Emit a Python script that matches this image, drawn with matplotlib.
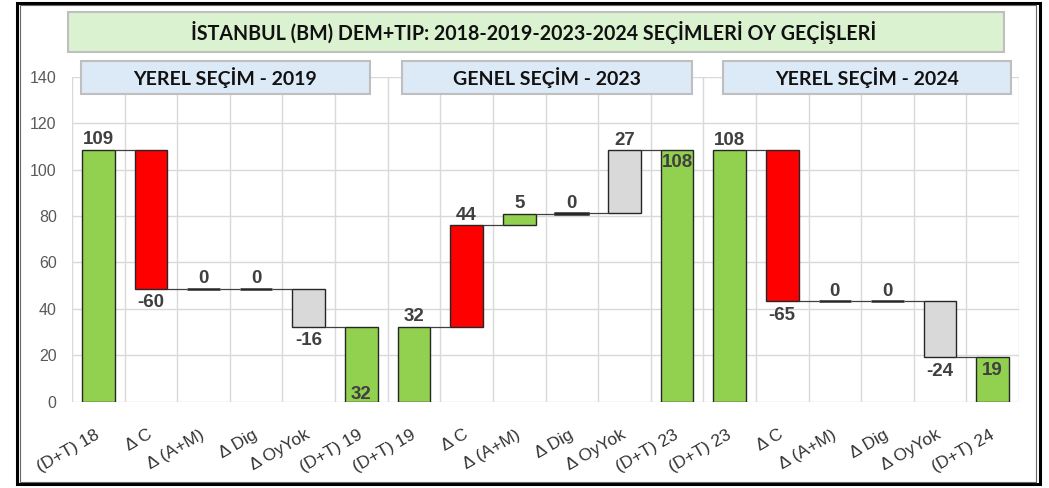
import matplotlib
matplotlib.use("Agg")
import matplotlib.pyplot as plt
from matplotlib.patches import Rectangle
from matplotlib.transforms import offset_copy
import numpy as np

# ---------------- data ----------------
title = "İSTANBUL (BM) DEM+TIP: 2018-2019-2023-2024 SEÇİMLERİ OY GEÇİŞLERİ"
panel_titles = ["YEREL SEÇİM - 2019", "GENEL SEÇİM - 2023", "YEREL SEÇİM - 2024"]

cats_p1 = ["(D+T) 18", "Δ C", "Δ (A+M)", "Δ Dig", "Δ OyYok", "(D+T) 19"]
cats_p2 = ["(D+T) 19", "Δ C", "Δ (A+M)", "Δ Dig", "Δ OyYok", "(D+T) 23"]
cats_p3 = ["(D+T) 23", "Δ C", "Δ (A+M)", "Δ Dig", "Δ OyYok", "(D+T) 24"]

start_totals = [108.6, 32.3, 108.3]
deltas_p1 = [-59.9, 0.0, 0.0, -16.4]
deltas_p2 = [43.7, 5.0, 0.1, 27.2]
deltas_p3 = [-65.0, 0.0, 0.0, -24.3]

yticks = [0, 20, 40, 60, 80, 100, 120, 140]

# ---------------- style ----------------
GREEN = "#92d050"
RED = "#ff0000"
GRAY = "#d9d9d9"
delta_colors = [RED, GREEN, GREEN, GRAY]
end_label_mode = ["base", "end", "end"]
BAR_W = 0.62
LABEL_COLOR = "#404040"

W, H = 1049, 488
fig = plt.figure(figsize=(W / 100, H / 100), dpi=100)
fig.patch.set_facecolor("white")


def fx(x):
    return x / W


def fy(y):
    return 1 - y / H


ax_left, ax_right, ax_top, ax_bottom = 72, 1019, 76.7, 401.5
ax = fig.add_axes([fx(ax_left), fy(ax_bottom), fx(ax_right) - fx(ax_left),
                   fy(ax_top) - fy(ax_bottom)])

panels = [(cats_p1, deltas_p1), (cats_p2, deltas_p2), (cats_p3, deltas_p3)]
all_cats = []
n_per = 6

for p, (cats, deltas) in enumerate(panels):
    all_cats += cats
    x0 = p * n_per
    xs = np.arange(x0, x0 + n_per)
    start = start_totals[p]
    levels = start + np.cumsum(deltas)
    prev = np.concatenate([[start], levels[:-1]])
    end = levels[-1]

    bottoms = [0] + list(np.minimum(prev, levels)) + [0]
    heights = [start] + list(np.abs(deltas)) + [end]
    colors = [GREEN] + delta_colors + [GREEN]
    lws = [1.0] + [1.8 if abs(d) < 0.5 else 1.0 for d in deltas] + [1.0]
    ax.bar(xs, heights, bottom=bottoms, width=BAR_W, color=colors,
           edgecolor="#262626", linewidth=lws, zorder=3)

    # connectors
    run_levels = [start] + list(levels)
    for i in range(n_per - 1):
        ax.hlines(run_levels[i], xs[i] + BAR_W / 2, xs[i + 1] - BAR_W / 2,
                  color="#404040", linewidth=0.9, zorder=3)

    lab_kw = dict(ha="center", fontsize=13.5, fontweight="bold",
                  color=LABEL_COLOR, family="Liberation Sans", zorder=5)
    up = offset_copy(ax.transData, fig=fig, x=0, y=1, units="points")
    down = offset_copy(ax.transData, fig=fig, x=0, y=-4, units="points")
    # start total label
    ax.text(xs[0], start, f"{round(start):.0f}", va="bottom", transform=up, **lab_kw)
    # deltas
    for i, d in enumerate(deltas):
        xi = xs[i + 1]
        top = max(prev[i], levels[i])
        bot = min(prev[i], levels[i])
        if d >= 0:
            ax.text(xi, top, f"{round(d):.0f}", va="bottom", transform=up, **lab_kw)
        else:
            ax.text(xi, bot, f"{round(d):.0f}", va="top", transform=down, **lab_kw)
    # end total label (inside)
    if end_label_mode[p] == "base":
        tr = offset_copy(ax.transData, fig=fig, x=0, y=2, units="points")
        ax.text(xs[-1], 0, f"{round(end):.0f}", va="baseline", transform=tr, **lab_kw)
    else:
        tr = offset_copy(ax.transData, fig=fig, x=0, y=-3, units="points")
        ax.text(xs[-1], end, f"{round(end):.0f}", va="top", transform=tr, **lab_kw)

n = len(all_cats)
ax.set_xlim(-0.5, n - 0.5)
ax.set_ylim(0, 140)
ax.set_yticks(yticks)
ax.set_xticks(np.arange(n))
ax.set_xticklabels(all_cats)
ax.set_xticks(np.arange(-0.5, n, 1.0), minor=True)
ax.grid(True, which="major", axis="y", color="#d9d9d9", linewidth=1.0, zorder=0)
ax.grid(True, which="minor", axis="x", color="#d9d9d9", linewidth=1.0, zorder=0)
ax.grid(False, which="major", axis="x")
ax.set_axisbelow(True)
for s in ax.spines.values():
    s.set_visible(False)
ax.tick_params(axis="both", which="both", length=0)
ax.tick_params(axis="y", pad=11, labelcolor="#595959", labelsize=11.5)
ax.tick_params(axis="x", pad=23, labelcolor="#333333", labelsize=12.5)
for lab in ax.get_yticklabels():
    lab.set_family("Liberation Sans")
for lab in ax.get_xticklabels():
    lab.set_family("Liberation Sans")
    lab.set_rotation(30)
    lab.set_ha("right")
    lab.set_va("center")
    lab.set_rotation_mode("anchor")


# ---------------- boxes and frame ----------------
def fig_rect(x0, y0, x1, y1, **kw):
    r = Rectangle((fx(x0), fy(y1)), fx(x1) - fx(x0), fy(y0) - fy(y1),
                  transform=fig.transFigure, **kw)
    fig.add_artist(r)
    return r


# title box
fig_rect(68, 12, 1004, 52, facecolor="#daf2d0", edgecolor="#bfbfbf",
         linewidth=1.5, zorder=10)
fig.text(fx(534), fy(32), title, ha="center", va="center", fontsize=14.1,
         fontweight="bold", family="Lato", color="#111111", zorder=11)

# panel headers
header_boxes = [(81, 370), (402, 692), (723, 1011)]
for (x0, x1), t in zip(header_boxes, panel_titles):
    fig_rect(x0, 61, x1, 94, facecolor="#dce9f6", edgecolor="#bfbfbf",
             linewidth=1.5, zorder=10)
    fig.text(fx((x0 + x1) / 2), fy(77.5), t, ha="center", va="center",
             fontsize=14, fontweight="bold", family="Lato", color="#111111",
             zorder=11)

# outer double frame
fig_rect(16.5, 2.5, 1039.5, 484, facecolor="none", edgecolor="black",
         linewidth=2.2, zorder=20)
fig_rect(20, 5.5, 1036, 481.5, facecolor="none", edgecolor="#666666",
         linewidth=0.8, zorder=20)

fig.savefig("out.png", dpi=100, facecolor="white")
